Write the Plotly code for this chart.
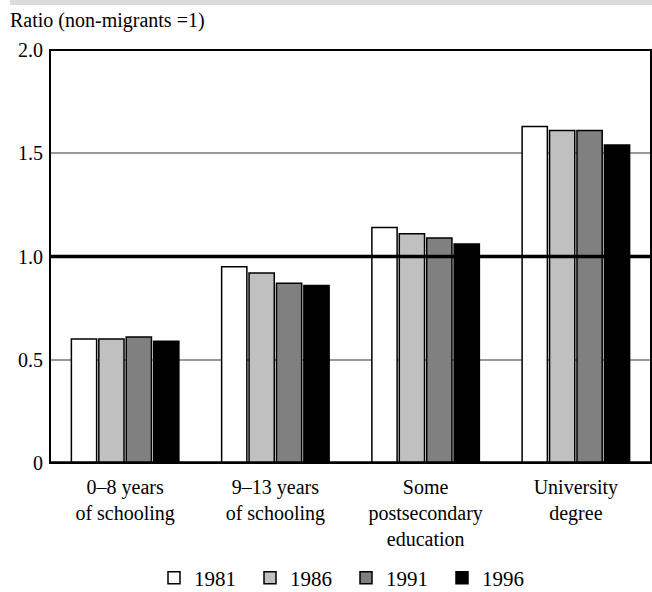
import plotly.graph_objects as go

categories = ["0–8 years<br>of schooling", "9–13 years<br>of schooling",
              "Some<br>postsecondary<br>education", "University<br>degree"]
years = ["1981", "1986", "1991", "1996"]
v1981 = [0.60, 0.95, 1.14, 1.63]
v1986 = [0.60, 0.92, 1.11, 1.61]
v1991 = [0.61, 0.87, 1.09, 1.61]
v1996 = [0.59, 0.86, 1.06, 1.54]
series = [v1981, v1986, v1991, v1996]
colors = ["#ffffff", "#c0c0c0", "#808080", "#000000"]
ytickvals = [0, 0.5, 1.0, 1.5, 2.0]
yticktext = ["0", "0.5", "1.0", "1.5", "2.0"]

FONT = "Liberation Serif"

fig = go.Figure()
for name, vals, c in zip(years, series, colors):
    fig.add_trace(go.Bar(x=categories, y=vals, name=name,
                         marker=dict(color=c, line=dict(color="black", width=1.5))))

W, H = 652, 592
ml, mr, mt, mb = 50, 1, 50, 129
pw = W - ml - mr
ph = H - mt - mb

fig.update_layout(
    width=W, height=H,
    margin=dict(l=ml, r=mr, t=mt, b=mb, autoexpand=False),
    paper_bgcolor="white", plot_bgcolor="white",
    font=dict(family=FONT, size=20, color="black"),
    barmode="group", bargap=0.27, bargroupgap=0.08,
    title=dict(text="Ratio (non-migrants =1)", x=10 / W, xanchor="left",
               xref="container", y=1 - 20 / H, yanchor="middle", yref="container",
               font=dict(family=FONT, size=20, color="black")),
    legend=dict(orientation="h", x=346 / W, xanchor="center", xref="container",
                y=(mt + ph - 578) / ph, yanchor="middle", yref="paper",
                font=dict(family=FONT, size=21), itemwidth=30, entrywidth=51,
                traceorder="normal"),
    showlegend=True,
)
fig.update_xaxes(showgrid=False, showline=False, ticks="", ticklabelstandoff=10,
                 tickfont=dict(size=20))
fig.update_yaxes(range=[0, 2], tickvals=ytickvals, ticktext=yticktext,
                 showgrid=True, gridcolor="#999999", gridwidth=1.5,
                 zeroline=False, showline=False, ticks="", ticklabelstandoff=6,
                 tickfont=dict(size=20))

# border
fig.add_shape(type="rect", xref="paper", yref="paper", x0=0, x1=1, y0=0, y1=1,
              line=dict(color="black", width=2), layer="above")
# reference line at 1.0
fig.add_shape(type="line", xref="paper", yref="y", x0=0, x1=1, y0=1, y1=1,
              line=dict(color="black", width=3.5), layer="above")
# bottom axis
fig.add_shape(type="line", xref="paper", yref="y", x0=0, x1=1, y0=0, y1=0,
              line=dict(color="black", width=3.5), layer="above")
# gray top band
fig.add_shape(type="rect", xref="paper", yref="paper",
              x0=(10 - ml) / pw, x1=(W - ml) / pw,
              y0=(ph + mt - 5) / ph, y1=(ph + mt) / ph,
              line=dict(width=0), fillcolor="#dcdcdc", layer="above")

fig.write_html("out.html", config={"displayModeBar": False},
               post_script="document.body.style.margin='0';document.body.style.overflow='hidden';")
